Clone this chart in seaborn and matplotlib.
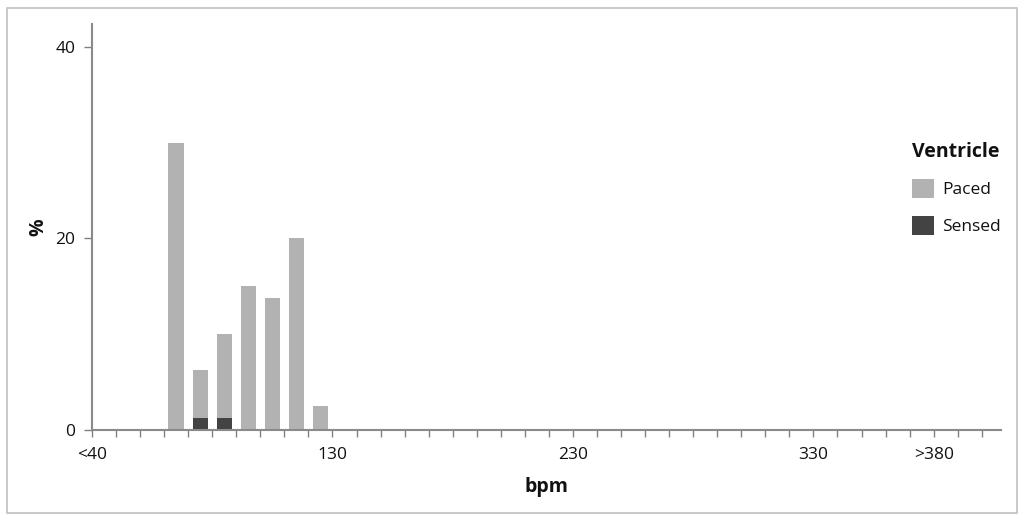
import matplotlib
matplotlib.use("Agg")
import matplotlib.pyplot as plt
from matplotlib.patches import Rectangle
import numpy as np
import pandas as pd
import seaborn as sns

# bin start (bpm) for each 10-bpm bin, percentage of beats
bin_start = [60, 70, 80, 90, 100, 110, 120]
paced = [30, 5, 8.75, 15, 13.75, 20, 2.5]
sensed = [0, 1.25, 1.25, 0, 0, 0, 0]

tick_pos = [30, 130, 230, 330, 380]
tick_labels = ["<40", "130", "230", "330", ">380"]
y_ticks = [0, 20, 40]

df = pd.DataFrame({
    "bpm": [b + 5 for b in bin_start] * 2,
    "pct": paced + sensed,
    "Ventricle": ["Paced"] * len(bin_start) + ["Sensed"] * len(bin_start),
})

sns.set_style("white")
plt.rcParams["font.family"] = ["Open Sans", "DejaVu Sans"]

fig = plt.figure(figsize=(10.24, 5.21), dpi=100)
ax = fig.add_axes([92 / 1024, 1 - 430 / 521, 909 / 1024, 406 / 521])

sns.histplot(data=df, x="bpm", weights="pct", hue="Ventricle",
             hue_order=["Paced", "Sensed"], multiple="stack",
             binwidth=10, binrange=(30, 410), shrink=0.64,
             palette={"Paced": "#b2b2b2", "Sensed": "#434343"},
             alpha=1, edgecolor="none", linewidth=0, ax=ax)

ax.set_xlim(30, 408)
ax.set_ylim(0, 42.4)
ax.set_xticks(np.arange(30, 410, 10), minor=True)
ax.set_xticks(tick_pos)
ax.set_xticklabels(tick_labels)
ax.set_yticks(y_ticks)
ax.tick_params(axis="x", which="both", direction="out", length=5,
               width=1, color="#808080", bottom=True, labelsize=12.5,
               labelcolor="#111111", pad=7)
ax.tick_params(axis="y", direction="out", length=6, width=1,
               color="#808080", left=True, labelsize=12.5,
               labelcolor="#111111", pad=6)
sns.despine(ax=ax)
for s in ["left", "bottom"]:
    ax.spines[s].set_color("#8a8a8a")
    ax.spines[s].set_linewidth(1.5)

ax.set_xlabel("bpm", fontsize=14, fontweight="bold", labelpad=10,
              color="#111111")
ax.set_ylabel("%", fontsize=14, fontweight="bold", labelpad=5,
              color="#111111")

sns.move_legend(ax, "upper left", bbox_to_anchor=(896 / 1024, 1 - 126 / 521),
                bbox_transform=fig.transFigure, frameon=False,
                title="Ventricle", fontsize=12.5, title_fontsize=14,
                handlelength=1.3, handleheight=1.3, handletextpad=0.45,
                labelspacing=1.0, alignment="left")
leg = ax.get_legend()
leg.get_title().set_fontweight("bold")
leg.get_title().set_color("#111111")
for t in leg.get_texts():
    t.set_color("#111111")

fig.patches.append(Rectangle((7 / 1024, 8 / 521), 1010 / 1024, 505 / 521,
                             fill=False, edgecolor="#c0c0c0", linewidth=1.2,
                             transform=fig.transFigure))

fig.savefig("out.png", dpi=100)
